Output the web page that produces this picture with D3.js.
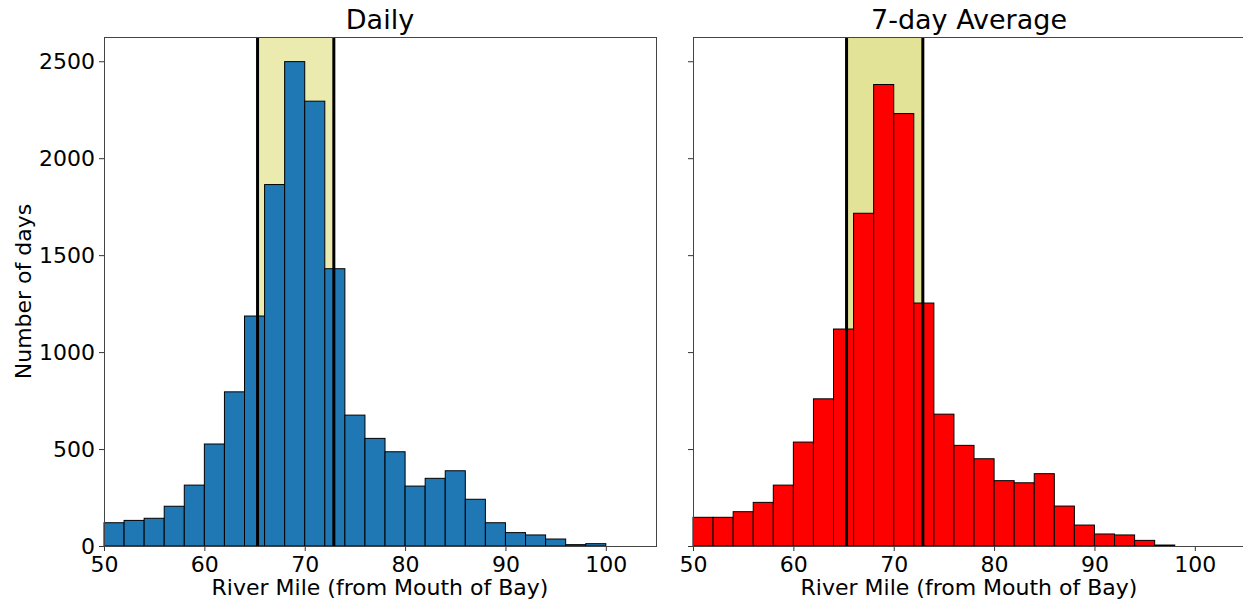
<!DOCTYPE html>
<html>
<head>
<meta charset="utf-8">
<script src="https://cdn.jsdelivr.net/npm/d3@7"></script>
<style>
  body { margin: 0; background: #fff; }
  svg text { font-family: "DejaVu Sans", sans-serif; fill: #000; }
</style>
</head>
<body>
<div id="chart"></div>
<script>
// Histogram bins (river mile, bin width 2)
const binStarts = [50, 52, 54, 56, 58, 60, 62, 64, 66, 68, 70, 72, 74, 76, 78, 80, 82, 84, 86, 88, 90, 92, 94, 96, 98];
const binWidth = 2;
const dailyCounts = [120, 132, 143, 205, 314, 526, 795, 1186, 1864, 2498, 2294, 1430, 675, 555, 486, 309, 349, 388, 241, 120, 69, 57, 36, 7, 12];
const weeklyCounts = [148, 148, 177, 225, 314, 536, 759, 1119, 1716, 2380, 2230, 1253, 680, 519, 450, 337, 326, 373, 206, 108, 62, 57, 29, 5, 0];
const bandLimits = [65.3, 72.9];
const xTicks = [50, 60, 70, 80, 90, 100];
const yTicks = [0, 500, 1000, 1500, 2000, 2500];
const titles = ["Daily", "7-day Average"];

const W = 1243, H = 604;
const svg = d3.select("#chart").append("svg")
  .attr("width", W).attr("height", H);

const plotTop = 37, plotBottom = 546;
const panelW = 552;
const lefts = [104, 693];

const y = d3.scaleLinear().domain([0, 2625]).range([plotBottom, plotTop]);

const panels = [
  { counts: dailyCounts, fill: "#1f77b4", shade: "#ebebb0", title: titles[0], showY: true },
  { counts: weeklyCounts, fill: "#ff0000", shade: "#e3e397", title: titles[1], showY: false }
];

panels.forEach((p, i) => {
  const x0 = lefts[i];
  const x = d3.scaleLinear().domain([50, 105]).range([x0, x0 + panelW]);
  const g = svg.append("g");

  // shaded band
  g.append("rect")
    .attr("x", x(bandLimits[0]))
    .attr("y", plotTop)
    .attr("width", x(bandLimits[1]) - x(bandLimits[0]))
    .attr("height", plotBottom - plotTop)
    .attr("fill", p.shade);

  // bars
  g.selectAll(".bar")
    .data(binStarts.map((b, j) => ({ b: b, c: p.counts[j] })).filter(d => d.c > 0))
    .enter().append("rect")
    .attr("class", "bar")
    .attr("x", d => x(d.b))
    .attr("width", d => x(d.b + binWidth) - x(d.b))
    .attr("y", d => y(d.c))
    .attr("height", d => plotBottom - y(d.c))
    .attr("fill", p.fill)
    .attr("stroke", "#000")
    .attr("stroke-width", 1);

  // vertical band limits
  g.selectAll(".vline")
    .data(bandLimits)
    .enter().append("line")
    .attr("x1", d => x(d)).attr("x2", d => x(d))
    .attr("y1", plotTop).attr("y2", plotBottom)
    .attr("stroke", "#000")
    .attr("stroke-width", 3);

  // x axis
  const xa = g.append("g")
    .attr("transform", `translate(0,${plotBottom})`)
    .call(d3.axisBottom(x).tickValues(xTicks).tickSize(5).tickPadding(5).tickFormat(d3.format("d")));
  xa.select(".domain").remove();
  xa.selectAll("line").attr("stroke", "#333");
  xa.selectAll("text").style("font-size", "22px");

  // y axis
  const ya = g.append("g")
    .attr("transform", `translate(${x0},0)`)
    .call(d3.axisLeft(y).tickValues(yTicks).tickSize(5).tickPadding(4).tickFormat(d3.format("d")));
  ya.select(".domain").remove();
  ya.selectAll("line").attr("stroke", "#333");
  ya.selectAll("text").style("font-size", "22px");
  if (!p.showY) ya.selectAll("text").remove();

  // frame
  g.append("rect")
    .attr("x", x0 + 0.5).attr("y", plotTop + 0.5)
    .attr("width", panelW).attr("height", plotBottom - plotTop)
    .attr("fill", "none")
    .attr("stroke", "#444")
    .attr("stroke-width", 1);

  // title
  g.append("text")
    .attr("x", x0 + panelW / 2)
    .attr("y", 29)
    .attr("text-anchor", "middle")
    .style("font-size", "27px")
    .text(p.title);

  // x label
  g.append("text")
    .attr("x", x0 + panelW / 2)
    .attr("y", 595)
    .attr("text-anchor", "middle")
    .style("font-size", "22px")
    .text("River Mile (from Mouth of Bay)");
});

// y label
svg.append("text")
  .attr("transform", `translate(31,${(plotTop + plotBottom) / 2}) rotate(-90)`)
  .attr("text-anchor", "middle")
  .style("font-size", "22px")
  .text("Number of days");
</script>
</body>
</html>
